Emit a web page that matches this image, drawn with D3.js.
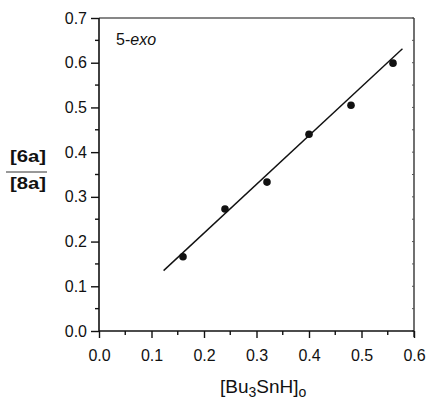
<!DOCTYPE html>
<meta charset="utf-8">
<style>
body { margin: 0; background: #fff; }
svg { display: block; }
.tick text { font: 16px "Liberation Sans", Arial, sans-serif; fill: #111; }
.lbl { font-family: "Liberation Sans", Arial, sans-serif; fill: #111; }
</style>
<svg width="430" height="401"></svg>
<script src="https://cdnjs.cloudflare.com/ajax/libs/d3/7.8.5/d3.min.js"></script>
<script>

// data
var conc = [0.16, 0.24, 0.32, 0.40, 0.48, 0.56];
var ratio = [0.166, 0.273, 0.333, 0.440, 0.505, 0.599];
var fitX = [0.123, 0.578];
var fitY = [0.135, 0.631];
var xTicks = [0, 0.1, 0.2, 0.3, 0.4, 0.5, 0.6];
var yTicks = [0, 0.1, 0.2, 0.3, 0.4, 0.5, 0.6, 0.7];

var svg = d3.select("svg");
var pLeft = 99, pRight = 414, pTop = 18, pBottom = 331;

var x = d3.scaleLinear().domain([0, 0.6]).range([pLeft, pRight]);
var y = d3.scaleLinear().domain([0, 0.7]).range([pBottom, pTop]);

var minorX = d3.range(0.05, 0.6, 0.1);
var minorY = d3.range(0.05, 0.7, 0.1);

// frame top + right (thin)
svg.append("line").attr("x1", pLeft).attr("x2", pRight).attr("y1", pTop).attr("y2", pTop)
  .attr("stroke", "#111").attr("stroke-width", 1.2);
svg.append("line").attr("x1", pRight).attr("x2", pRight).attr("y1", pTop).attr("y2", pBottom + 6)
  .attr("stroke", "#111").attr("stroke-width", 1.2);

// small inward ticks on right side
svg.append("g").selectAll("line").data(yTicks.concat(minorY)).enter().append("line")
  .attr("x1", pRight).attr("x2", pRight - 2)
  .attr("y1", function(d) { return y(d); }).attr("y2", function(d) { return y(d); })
  .attr("stroke", "#555").attr("stroke-width", 1);

// bottom axis
var xAxis = svg.append("g").attr("transform", "translate(0," + pBottom + ")")
  .call(d3.axisBottom(x).tickValues(xTicks).tickFormat(d3.format(".1f")).tickSize(7).tickPadding(12));
xAxis.select(".domain").attr("stroke-width", 1.6).attr("d", "M" + pLeft + ",0H" + pRight);
xAxis.selectAll(".tick line").attr("stroke-width", 1.4);
svg.append("g").selectAll("line").data(minorX).enter().append("line")
  .attr("x1", function(d) { return x(d); }).attr("x2", function(d) { return x(d); })
  .attr("y1", pBottom).attr("y2", pBottom + 4)
  .attr("stroke", "#111").attr("stroke-width", 1.4);

// left axis
var yAxis = svg.append("g").attr("transform", "translate(" + pLeft + ",0)")
  .call(d3.axisLeft(y).tickValues(yTicks).tickFormat(d3.format(".1f")).tickSize(8).tickPadding(4));
yAxis.select(".domain").attr("stroke-width", 1.6).attr("d", "M0," + pTop + "V" + pBottom);
yAxis.selectAll(".tick line").attr("stroke-width", 1.4);
svg.append("g").selectAll("line").data(minorY).enter().append("line")
  .attr("x1", pLeft).attr("x2", pLeft - 4)
  .attr("y1", function(d) { return y(d); }).attr("y2", function(d) { return y(d); })
  .attr("stroke", "#111").attr("stroke-width", 1.4);

svg.selectAll(".domain, .tick line").attr("stroke", "#111");

// fit line
svg.append("line")
  .attr("x1", x(fitX[0])).attr("y1", y(fitY[0]))
  .attr("x2", x(fitX[1])).attr("y2", y(fitY[1]))
  .attr("stroke", "#111").attr("stroke-width", 1.4);

// points
svg.append("g").selectAll("circle").data(conc).enter().append("circle")
  .attr("cx", function(d) { return x(d); })
  .attr("cy", function(d, i) { return y(ratio[i]); })
  .attr("r", 3.8).attr("fill", "#111");

// inset label
var t = svg.append("text").attr("class", "lbl").attr("x", 116).attr("y", 45).attr("font-size", 16);
t.append("tspan").text("5-");
t.append("tspan").attr("font-style", "italic").text("exo");

// x title
var xt = svg.append("text").attr("class", "lbl").attr("x", 220).attr("y", 393).attr("font-size", 19);
xt.append("tspan").text("[Bu");
xt.append("tspan").attr("font-size", 14).attr("dy", 4).text("3");
xt.append("tspan").attr("dy", -4).text("SnH]");
xt.append("tspan").attr("font-size", 14).attr("dy", 4).text("o");

// y title as a fraction
svg.append("text").attr("class", "lbl").attr("x", 10).attr("y", 162)
  .attr("font-size", 16).attr("font-weight", "bold")
  .attr("textLength", 36).attr("lengthAdjust", "spacingAndGlyphs").text("[6a]");
svg.append("line").attr("x1", 6).attr("x2", 47).attr("y1", 172).attr("y2", 172)
  .attr("stroke", "#333").attr("stroke-width", 1);
svg.append("text").attr("class", "lbl").attr("x", 10).attr("y", 189)
  .attr("font-size", 16).attr("font-weight", "bold")
  .attr("textLength", 36).attr("lengthAdjust", "spacingAndGlyphs").text("[8a]");

</script>
